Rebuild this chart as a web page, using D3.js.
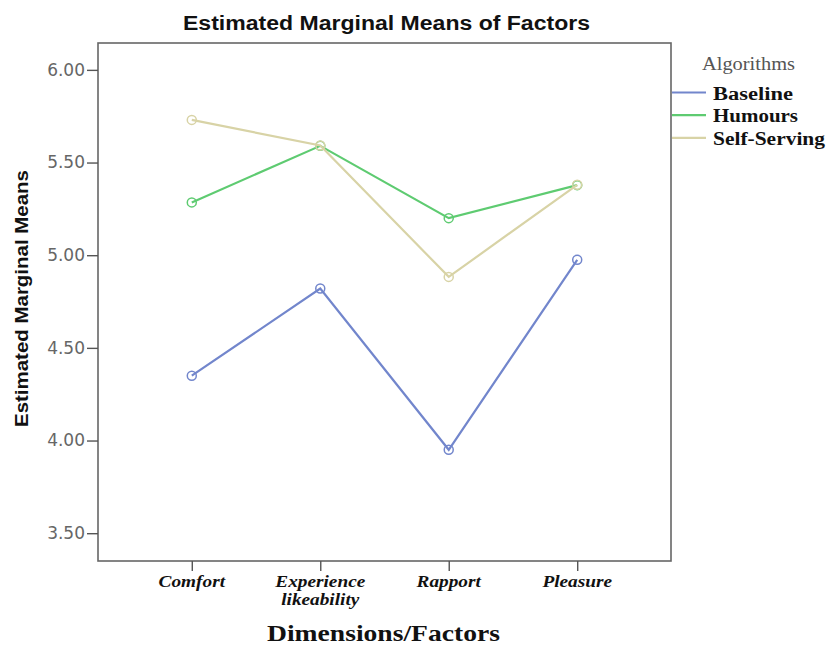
<!DOCTYPE html>
<html>
<head>
<meta charset="utf-8">
<script src="https://cdn.jsdelivr.net/npm/d3@7"></script>
<style>
  body { margin: 0; background: #fff; }
  svg { display: block; }
</style>
</head>
<body>
<svg id="chart" width="830" height="646"></svg>
<script>
// ---- data ----
const factors = ["Comfort", "Experience likeability", "Rapport", "Pleasure"];
const factorLabels = [["Comfort"], ["Experience", "likeability"], ["Rapport"], ["Pleasure"]];
const algorithms = ["Baseline", "Humours", "Self-Serving"];
const baselineMeans = [4.35, 4.82, 3.95, 4.975];
const humoursMeans = [5.285, 5.59, 5.20, 5.378];
const selfServingMeans = [5.73, 5.592, 4.883, 5.38];
const yTicks = [3.5, 4.0, 4.5, 5.0, 5.5, 6.0];
const seriesColors = ["#7286cc", "#5ecb71", "#d8d3a6"];

const seriesValues = [baselineMeans, humoursMeans, selfServingMeans];

// ---- layout ----
const frame = { left: 98, right: 671, top: 43, bottom: 561 };
const serif = "'Liberation Serif', 'Times New Roman', serif";
const sans = "'Liberation Sans', Arial, sans-serif";

const svg = d3.select("#chart");

const x = d3.scalePoint()
    .domain(factors)
    .range([frame.left, frame.right])
    .padding(0.73);

const y = d3.scaleLinear()
    .domain([3.35, 6.145])
    .range([frame.bottom, frame.top]);

// Title
svg.append("text")
    .attr("x", 386.5).attr("y", 30)
    .attr("text-anchor", "middle")
    .attr("textLength", 407)
    .attr("lengthAdjust", "spacingAndGlyphs")
    .style("font-family", sans)
    .style("font-weight", "bold")
    .style("font-size", "20px")
    .style("fill", "#111")
    .text("Estimated Marginal Means of Factors");

// Frame
svg.append("rect")
    .attr("x", frame.left).attr("y", frame.top)
    .attr("width", frame.right - frame.left)
    .attr("height", frame.bottom - frame.top)
    .attr("fill", "none")
    .attr("stroke", "#666")
    .attr("stroke-width", 1.6);

// Y axis
const yAxis = svg.append("g")
    .attr("transform", `translate(${frame.left},0)`)
    .call(d3.axisLeft(y).tickValues(yTicks).tickFormat(d3.format(".2f")).tickSize(11).tickSizeOuter(0));
yAxis.select(".domain").remove();
yAxis.selectAll(".tick line").attr("stroke", "#555").attr("stroke-width", 1.4);
yAxis.selectAll(".tick text")
    .attr("x", -13)
    .style("font-family", "'DejaVu Sans', Verdana, sans-serif")
    .style("font-size", "17px")
    .style("fill", "#666");

// X axis
const xAxis = svg.append("g")
    .attr("transform", `translate(0,${frame.bottom})`)
    .call(d3.axisBottom(x).tickSize(10).tickSizeOuter(0).tickFormat(""));
xAxis.select(".domain").remove();
xAxis.selectAll(".tick line").attr("stroke", "#555").attr("stroke-width", 1.4);
xAxis.selectAll(".tick text").remove();

svg.append("g").selectAll("text")
    .data(factors)
    .join("text")
    .attr("transform", d => `translate(${x(d)},587) scale(1.17,1)`)
    .attr("text-anchor", "middle")
    .style("font-family", serif)
    .style("font-weight", "bold")
    .style("font-style", "italic")
    .style("font-size", "16.5px")
    .style("fill", "#111")
    .each(function(d, i) {
        d3.select(this).selectAll("tspan")
            .data(factorLabels[i])
            .join("tspan")
            .attr("x", 0)
            .attr("dy", (t, j) => j === 0 ? 0 : 18)
            .text(t => t);
    });

// Axis titles
svg.append("text")
    .attr("transform", "translate(28,298.5) rotate(-90)")
    .attr("text-anchor", "middle")
    .attr("textLength", 257)
    .attr("lengthAdjust", "spacingAndGlyphs")
    .style("font-family", sans)
    .style("font-weight", "bold")
    .style("font-size", "18px")
    .style("fill", "#111")
    .text("Estimated Marginal Means");

svg.append("text")
    .attr("x", 383.5).attr("y", 641)
    .attr("text-anchor", "middle")
    .attr("textLength", 233)
    .attr("lengthAdjust", "spacingAndGlyphs")
    .style("font-family", serif)
    .style("font-weight", "bold")
    .style("font-size", "23px")
    .style("fill", "#111")
    .text("Dimensions/Factors");

// Lines and markers
const line = d3.line()
    .x((d, i) => x(factors[i]))
    .y(d => y(d));

const series = svg.append("g").selectAll("g")
    .data(seriesValues)
    .join("g");

series.append("path")
    .attr("d", d => line(d))
    .attr("fill", "none")
    .attr("stroke", (d, i) => seriesColors[i])
    .attr("stroke-width", 2.2);

series.each(function(vals, si) {
    d3.select(this).selectAll("circle")
        .data(vals)
        .join("circle")
        .attr("cx", (d, i) => x(factors[i]))
        .attr("cy", d => y(d))
        .attr("r", 4.5)
        .attr("fill", "none")
        .attr("stroke", seriesColors[si])
        .attr("stroke-width", 1.5);
});

// Legend
const legend = svg.append("g");
legend.append("text")
    .attr("x", 748.5).attr("y", 70)
    .attr("text-anchor", "middle")
    .attr("textLength", 93)
    .attr("lengthAdjust", "spacingAndGlyphs")
    .style("font-family", serif)
    .style("font-size", "18px")
    .style("fill", "#555")
    .text("Algorithms");

const legendWidths = [80, 85, 112];

const items = legend.selectAll("g.item")
    .data(algorithms)
    .join("g")
    .attr("class", "item")
    .attr("transform", (d, i) => `translate(672,${92.5 + i * 22.7})`);

items.append("line")
    .attr("x1", 0).attr("x2", 34)
    .attr("y1", 0).attr("y2", 0)
    .attr("stroke", (d, i) => seriesColors[i])
    .attr("stroke-width", 2.2);

items.append("text")
    .attr("x", 41).attr("y", 7)
    .attr("textLength", (d, i) => legendWidths[i])
    .attr("lengthAdjust", "spacingAndGlyphs")
    .style("font-family", serif)
    .style("font-weight", "bold")
    .style("font-size", "18px")
    .style("fill", "#111")
    .text(d => d);
</script>
</body>
</html>
